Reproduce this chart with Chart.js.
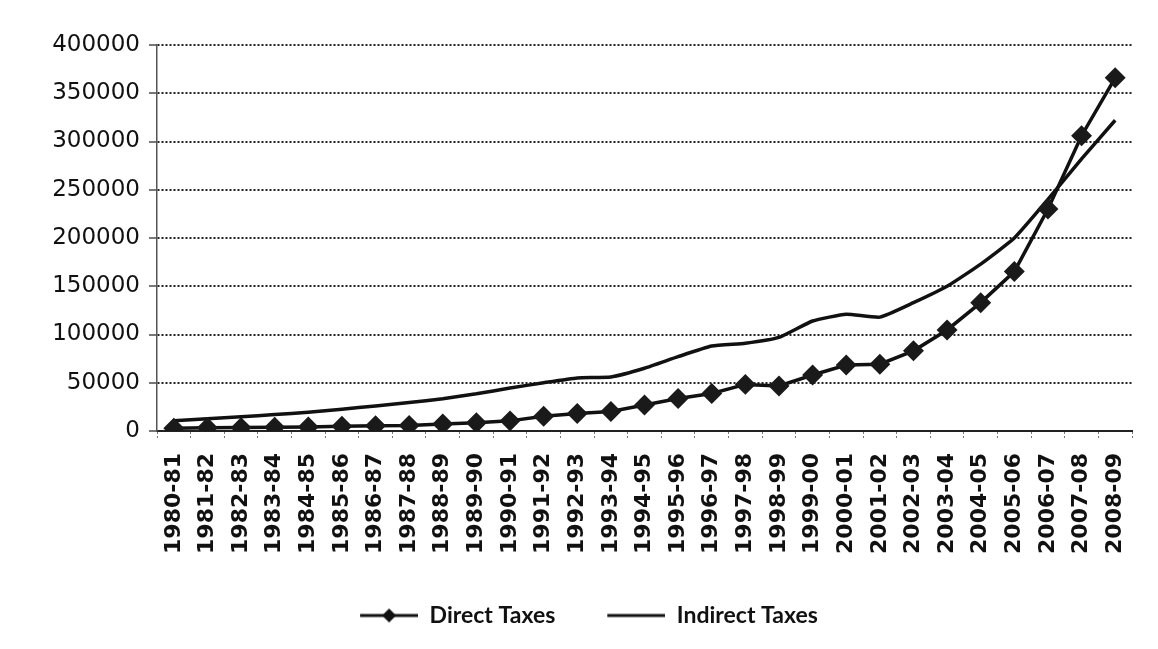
<!DOCTYPE html>
<html>
<head>
<meta charset="utf-8">
<script src="https://cdn.jsdelivr.net/npm/chart.js@4/dist/chart.umd.min.js"></script>
<style>
  html, body { margin: 0; padding: 0; background: #fff; }
  #wrap { width: 1158px; height: 649px; }
</style>
</head>
<body>
<div id="wrap"><canvas id="taxChart" width="1158" height="649"></canvas></div>
<script>
// years (financial years)
const years = ['1980-81', '1981-82', '1982-83', '1983-84', '1984-85', '1985-86', '1986-87', '1987-88',
    '1988-89', '1989-90', '1990-91', '1991-92', '1992-93', '1993-94', '1994-95', '1995-96', '1996-97',
    '1997-98', '1998-99', '1999-00', '2000-01', '2001-02', '2002-03', '2003-04', '2004-05', '2005-06',
    '2006-07', '2007-08', '2008-09'];

// direct taxes
const directTaxes = [2800, 3300, 3500, 3900, 4200, 5000, 5400, 5800, 7200, 8500, 10500, 15300, 18100, 20300,
    27000, 33600, 38900, 48300, 46600, 58000, 68300, 69200, 83100, 104700, 133000, 165200, 230000, 306000, 366000];

// indirect taxes
const indirectTaxes = [10600, 12700, 14700, 17000, 19500, 22500, 26000, 29500, 33500, 38500, 44500, 50000, 55000,
    56000, 65000, 77000, 88000, 91000, 97000, 114000, 121000, 118000, 133000, 150000, 173000, 200000, 240000,
    282000, 322000];

const yTicks = [0, 50000, 100000, 150000, 200000, 250000, 300000, 350000, 400000];

//=======================================================================================
// legend icons: line with a diamond / plain line (blank on the left = gap between items)
//=======================================================================================
function legendIcon(withDiamond) {
    let c = document.createElement('canvas');
    c.width = 104; c.height = 18;
    let g = c.getContext('2d');
    g.strokeStyle = '#111';
    g.lineWidth = 3;
    g.beginPath(); g.moveTo(46, 9); g.lineTo(104, 9); g.stroke();
    if (withDiamond) {
        g.fillStyle = '#111';
        g.beginPath(); g.moveTo(75, 2); g.lineTo(82, 9); g.lineTo(75, 16); g.lineTo(68, 9); g.closePath(); g.fill();
    }
    return c;
}
const iconDirect = legendIcon(true);
const iconIndirect = legendIcon(false);

let ctx = document.getElementById('taxChart');

let data = {
    labels: years,
    datasets: [
        {
            label: 'Direct Taxes',
            data: directTaxes,
            borderColor: '#111',
            backgroundColor: '#111',
            borderWidth: 3.5,
            pointStyle: 'rectRot',
            pointRadius: 8,
            pointBackgroundColor: '#1a1a1a',
            pointBorderColor: '#1a1a1a',
            tension: 0,
        },
        {
            label: 'Indirect Taxes',
            data: indirectTaxes,
            borderColor: '#111',
            backgroundColor: '#111',
            borderWidth: 3.5,
            pointRadius: 0,
            tension: 0.15,
        }
    ]
};

let config = {
    type: 'line',
    data: data,
    options: {
        responsive: false,
        animation: false,
        layout: { padding: { top: 45, right: 26, bottom: 12, left: 0 } },
        plugins: {
            legend: {
                position: 'bottom',
                labels: {
                    usePointStyle: true,
                    pointStyleWidth: 104,
                    color: '#111',
                    padding: 6,
                    font: { family: 'Lato', size: 23, weight: 'bold' },
                    generateLabels: function (chart) {
                        return chart.data.datasets.map((ds, i) => ({
                            text: ds.label,
                            pointStyle: i === 0 ? iconDirect : iconIndirect,
                            fillStyle: '#111',
                            strokeStyle: '#111',
                            lineWidth: 0,
                            fontColor: '#111',
                            datasetIndex: i,
                            hidden: false,
                        }));
                    }
                }
            },
            tooltip: { enabled: false },
            title: { display: false }
        },
        scales: {
            x: {
                offset: true,
                grid: {
                    offset: true,
                    drawOnChartArea: false,
                    drawTicks: true,
                    tickLength: 8,
                    color: '#777',
                    tickBorderDash: [2, 2],
                },
                border: { display: true, color: '#222', width: 2 },
                ticks: {
                    autoSkip: false,
                    minRotation: 90,
                    maxRotation: 90,
                    padding: 14,
                    color: '#111',
                    font: { family: 'DejaVu Sans', size: 22, weight: 'bold' },
                },
                afterFit: function (scale) { scale.height = 167; }
            },
            y: {
                min: 0,
                max: 400000,
                afterBuildTicks: function (scale) { scale.ticks = yTicks.map((v) => ({ value: v })); },
                grid: {
                    color: '#222',
                    lineWidth: 2,
                    drawTicks: true,
                    tickLength: 8,
                    tickColor: '#777',
                },
                border: { display: true, color: '#555', dash: [2, 2], width: 1.5 },
                ticks: {
                    padding: 9,
                    color: '#111',
                    font: { family: 'DejaVu Sans', size: 23 },
                    callback: (v) => String(v),
                },
                afterFit: function (scale) { scale.width = 157; }
            }
        }
    }
};

let taxChart = new Chart(ctx, config);
</script>
</body>
</html>
